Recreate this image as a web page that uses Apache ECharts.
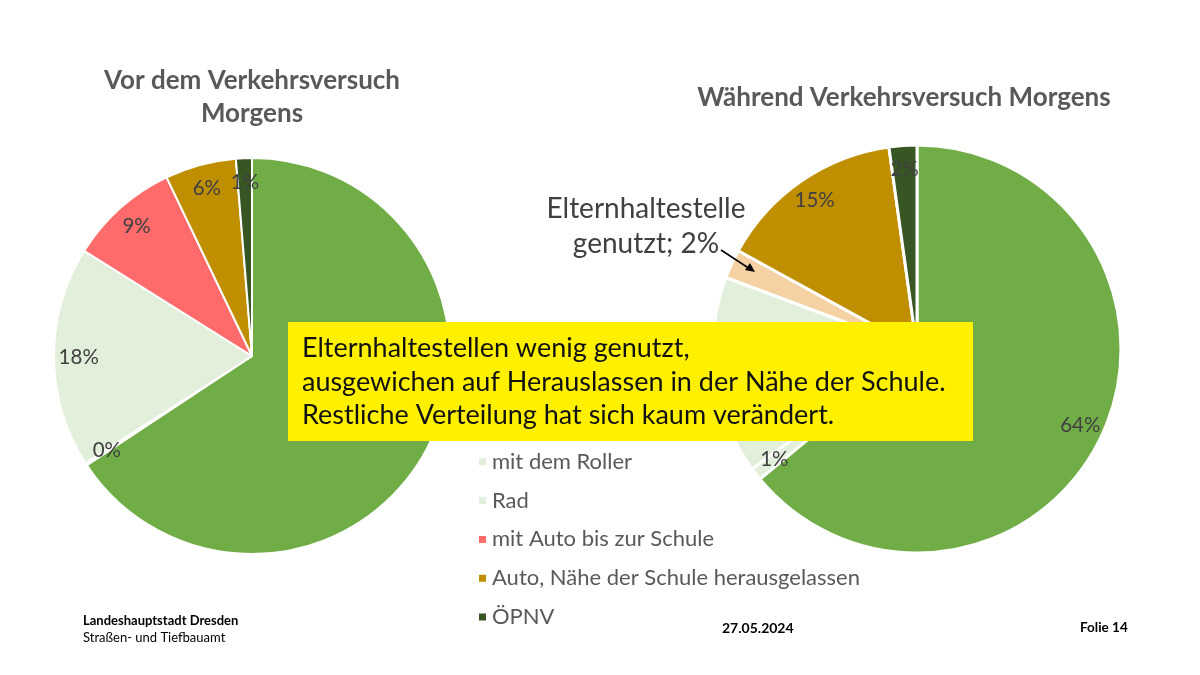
<!DOCTYPE html>
<html><head><meta charset="utf-8">
<script src="https://cdn.jsdelivr.net/npm/echarts@6/dist/echarts.min.js"></script>
<style>html,body{margin:0;padding:0;background:#fff}#c{width:1200px;height:675px}</style>
</head><body><div id="c"></div>
<script>
// Categories (legend order)
const legendNames = ['zu Fuß','mit dem Roller','Rad','mit Auto bis zur Schule','Auto, Nähe der Schule herausgelassen','ÖPNV'];
// Before the trial (percent)
const beforeNames  = ['zu Fuß','mit dem Roller','Rad','mit Auto bis zur Schule','Auto, Nähe der Schule herausgelassen','ÖPNV'];
const beforeValues = [65.7, 0.2, 18, 9, 5.8, 1.3];
// During the trial (percent)
const duringNames  = ['zu Fuß','mit dem Roller','Rad','Elternhaltestelle genutzt','Auto, Nähe der Schule herausgelassen','ÖPNV'];
const duringValues = [64, 1, 15.7, 2.3, 14.8, 2.2];

const colorMap = {
  'zu Fuß':'#70AD47',
  'mit dem Roller':'#E2EFDA',
  'Rad':'#E2EFDA',
  'mit Auto bis zur Schule':'#FF6B6B',
  'Elternhaltestelle genutzt':'#F5D2A4',
  'Auto, Nähe der Schule herausgelassen':'#BF8F00',
  'ÖPNV':'#375623'
};
const FONT = 'Lato';

function mainData(names, vals){ return names.map((n,i)=>({name:n, value:vals[i], itemStyle:{color:colorMap[n]}})); }
function labelData(names, vals){ return names.map((n,i)=>({name:n, value:vals[i]})); }
const pctFmt = p => (n => n==='Elternhaltestelle genutzt' ? 'Elternhaltestelle\ngenutzt; ' + Math.round(p.value) + '%' : Math.round(p.value) + '%')(p.name);

const chart = echarts.init(document.getElementById('c'));
const L = {c:[252,356], r:198};
const R = {c:[917,349], r:204};

chart.setOption({
  backgroundColor:'#fff',
  animation:false,
  title:[
    {text:'Vor dem Verkehrsversuch\nMorgens', left:247, top:59, textAlign:'center',
     textStyle:{fontFamily:FONT, fontSize:26, fontWeight:'bold', color:'#595959', lineHeight:33}},
    {text:'Während Verkehrsversuch Morgens', left:899, top:80, textAlign:'center',
     textStyle:{fontFamily:FONT, fontSize:26, fontWeight:'bold', color:'#595959'}}
  ],
  legend:{
    data:legendNames, orient:'vertical', left:472, top:407,
    icon:'rect', itemWidth:9, itemHeight:9, itemGap:16.8,
    textStyle:{fontFamily:FONT, fontSize:22, color:'#595959', lineHeight:22},
    selectedMode:false
  },
  series:[
    {type:'pie', center:L.c, radius:[0, L.r], startAngle:90, clockwise:true,
     data:mainData(beforeNames, beforeValues), label:{show:false}, labelLine:{show:false},
     itemStyle:{borderColor:'#fff', borderWidth:2}, silent:true, z:1},
    {type:'pie', center:R.c, radius:[0, R.r], startAngle:90, clockwise:true,
     data:mainData(duringNames, duringValues), label:{show:false}, labelLine:{show:false},
     itemStyle:{borderColor:'#fff', borderWidth:3}, silent:true, z:1},
    {type:'pie', center:L.c, radius:[L.r*0.72, L.r], startAngle:90, clockwise:true,
     data:labelData(beforeNames, beforeValues),
     itemStyle:{color:'rgba(0,0,0,0)'}, labelLine:{show:false}, silent:true, z:2,
     label:{show:true, position:'inside', formatter:pctFmt, fontFamily:FONT, fontSize:20.5, color:'#404040'},
     labelLayout:function(p){
       if (p.dataIndex === 0) return {dy:-14};
       return {};
     }},
    {type:'pie', center:R.c, radius:[R.r*0.74, R.r], startAngle:90, clockwise:true,
     data:labelData(duringNames, duringValues),
     itemStyle:{color:'rgba(0,0,0,0)'}, labelLine:{show:false}, silent:true, z:2,
     label:{show:true, position:'inside', formatter:pctFmt, fontFamily:FONT, fontSize:20.5, color:'#404040',
            lineHeight:35},
     labelLayout:function(p){
       if (p.dataIndex === 3) return {x:646, y:226, align:'center', verticalAlign:'middle', fontSize:28};
       return {};
     }}
  ],
  graphic:[
    {type:'line', shape:{x1:721, y1:250, x2:750, y2:269}, style:{stroke:'#000', lineWidth:1.5}, z:10},
    {type:'polygon', shape:{points:[[755,272],[745,270],[750,263]]}, style:{fill:'#000'}, z:10},
    {type:'rect', shape:{x:288, y:322, width:685, height:119}, style:{fill:'#FFF000'}, z:20},
    {type:'text', left:302, top:332, z:21,
     style:{text:'Elternhaltestellen wenig genutzt,\nausgewichen auf Herauslassen in der Nähe der Schule.\nRestliche Verteilung hat sich kaum verändert.',
            fontFamily:FONT, fontSize:27, lineHeight:33.5, fill:'#111'}},
    {type:'text', left:83, top:614, style:{text:'Landeshauptstadt Dresden', fontFamily:FONT, fontSize:13, fontWeight:'bold', fill:'#000'}},
    {type:'text', left:83, top:631, style:{text:'Straßen- und Tiefbauamt', fontFamily:FONT, fontSize:13, fill:'#000'}},
    {type:'text', left:722, top:621, style:{text:'27.05.2024', fontFamily:FONT, fontSize:14, fontWeight:'bold', fill:'#000'}},
    {type:'text', left:1080, top:621, style:{text:'Folie 14', fontFamily:FONT, fontSize:13.5, fontWeight:'bold', fill:'#000'}}
  ]
});
</script></body></html>
